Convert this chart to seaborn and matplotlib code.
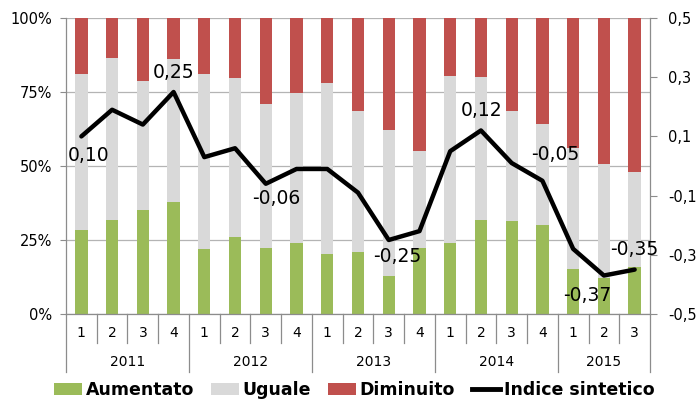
import numpy as np
import pandas as pd
import matplotlib
matplotlib.use("Agg")
import matplotlib.pyplot as plt
from matplotlib.patches import Patch
from matplotlib.lines import Line2D
from matplotlib.transforms import blended_transform_factory
import seaborn as sns

# ---- data ----
quarters = ["1", "2", "3", "4", "1", "2", "3", "4", "1", "2", "3", "4",
            "1", "2", "3", "4", "1", "2", "3"]
years = ["2011", "2012", "2013", "2014", "2015"]
year_lengths = [4, 4, 4, 4, 3]
aumentato = [28.4, 31.8, 35.1, 37.8, 21.9, 25.9, 22.2, 24.0, 20.3, 21.0,
             12.7, 22.2, 24.0, 31.8, 31.4, 30.1, 15.3, 12.3, 15.9]
uguale = [52.8, 54.8, 43.5, 48.3, 59.1, 53.7, 48.8, 50.6, 57.8, 47.7,
          49.4, 32.9, 56.4, 48.2, 37.3, 34.0, 40.7, 38.4, 32.2]
diminuito = [18.8, 13.4, 21.4, 13.9, 19.0, 20.4, 29.0, 25.4, 21.9, 31.3,
             37.9, 44.9, 19.6, 20.0, 31.3, 35.9, 44.0, 49.3, 51.9]
indice = [0.10, 0.19, 0.14, 0.25, 0.03, 0.06, -0.06, -0.01, -0.01, -0.09,
          -0.25, -0.22, 0.05, 0.12, 0.01, -0.05, -0.28, -0.37, -0.35]
labelled_points = [0, 3, 6, 10, 13, 15, 17, 18]
series_names = ["Aumentato", "Uguale", "Diminuito", "Indice sintetico"]

# ---- styling ----
label_offsets_px = {0: (7, -19), 3: (0, 19), 6: (10, -15), 10: (9, -17),
                    13: (1, 20), 15: (13, 26), 17: (-17, -20), 18: (0, 20)}
c_green, c_gray, c_red = "#9BBB59", "#D9D9D9", "#C0504D"
axis_gray = "#8C8C8C"
grid_gray = "#B4B4B4"

plt.rcParams["font.family"] = ["DejaVu Sans"]

pos = np.arange(len(quarters))
df = pd.DataFrame({
    "pos": pos,
    "aum": aumentato,
    "aum_ugu": np.array(aumentato) + np.array(uguale),
    "tot": np.array(aumentato) + np.array(uguale) + np.array(diminuito),
    "indice": indice,
})

fig = plt.figure(figsize=(6.96, 4.04), dpi=100)
ax = fig.add_axes([66 / 696, 1 - 314 / 404, (650 - 66) / 696, (314 - 18) / 404])

for col, color in [("tot", c_red), ("aum_ugu", c_gray), ("aum", c_green)]:
    sns.barplot(data=df, x="pos", y=col, native_scale=True, width=0.4,
                color=color, saturation=1, linewidth=0, edgecolor="none",
                ax=ax, legend=False)

ax.set_xlim(-0.5, len(quarters) - 0.5)
ax.set_ylim(0, 100)
ax.set_yticks([0, 25, 50, 75, 100])
ax.set_yticklabels([f"{v}%" for v in [0, 25, 50, 75, 100]], fontsize=10.5)
ax.set_xticks([])
ax.set_xlabel("")
ax.set_ylabel("")
ax.set_axisbelow(True)
ax.yaxis.grid(True, color=grid_gray, linewidth=0.9)
ax.tick_params(axis="y", direction="out", length=4, width=0.8, color=axis_gray, pad=6)
for s in ["top", "right"]:
    ax.spines[s].set_visible(False)
for s in ["left", "bottom"]:
    ax.spines[s].set_color(axis_gray)
    ax.spines[s].set_linewidth(0.9)

# secondary axis with the index line
ax2 = ax.twinx()
sns.lineplot(data=df, x="pos", y="indice", color="black", linewidth=3.2,
             ax=ax2, legend=False, solid_capstyle="round", solid_joinstyle="round")
ax2.set_ylim(-0.5, 0.5)
rticks = [-0.5, -0.3, -0.1, 0.1, 0.3, 0.5]
ax2.set_yticks(rticks)
ax2.set_yticklabels([f"{v:.1f}".replace(".", ",") for v in rticks], fontsize=10.5)
ax2.set_ylabel("")
ax2.set_xlim(-0.5, len(quarters) - 0.5)
ax2.tick_params(axis="y", direction="out", length=5, width=0.8, color=axis_gray, pad=8)
for s in ["top", "left", "bottom"]:
    ax2.spines[s].set_visible(False)
ax2.spines["right"].set_color(axis_gray)
ax2.spines["right"].set_linewidth(0.9)

for i in labelled_points:
    dx, dy = label_offsets_px[i]
    ax2.annotate(f"{indice[i]:.2f}".replace(".", ","), (pos[i], indice[i]),
                 xytext=(dx, dy), textcoords="offset pixels",
                 ha="center", va="center", fontsize=13.5, color="black")

# multi-level category axis
tr = blended_transform_factory(ax.transData, ax.transAxes)
year_bounds = set(np.cumsum([0] + year_lengths))
for b in range(len(quarters) + 1):
    y_end = -0.196 if b in year_bounds else -0.098
    ax.plot([b - 0.5, b - 0.5], [0, y_end], transform=tr, color=axis_gray,
            linewidth=0.9, clip_on=False)
for i, q in enumerate(quarters):
    ax.text(pos[i], -0.064, q, transform=tr, ha="center", va="center", fontsize=10)
start = 0
for y, n in zip(years, year_lengths):
    ax.text(start + (n - 1) / 2, -0.162, y, transform=tr, ha="center",
            va="center", fontsize=10)
    start += n

handles = [Patch(facecolor=c_green, edgecolor="none"),
           Patch(facecolor=c_gray, edgecolor="none"),
           Patch(facecolor=c_red, edgecolor="none"),
           Line2D([0], [0], color="black", linewidth=3.5)]
fig.legend(handles, series_names, loc="center", bbox_to_anchor=(0.509, 1 - 390 / 404),
           ncol=4, frameon=False, handlelength=1.6, handletextpad=0.2,
           columnspacing=1.0, prop={"weight": "bold", "size": 12.5})

fig.savefig("out.png", dpi=100)
